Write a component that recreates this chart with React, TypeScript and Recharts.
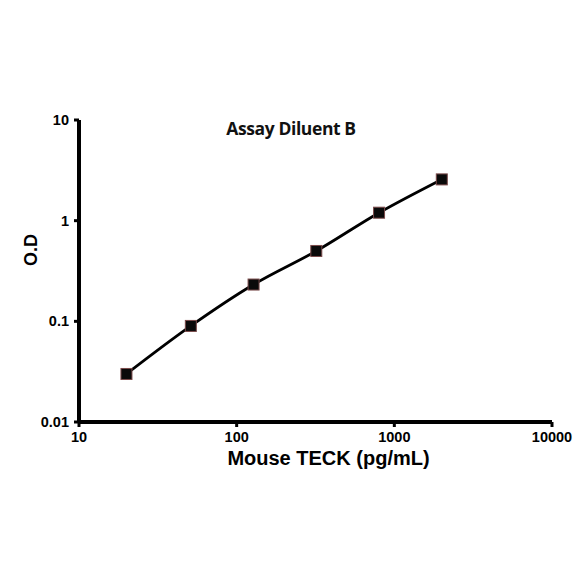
import React from 'react';
import { ComposedChart, Line, XAxis, YAxis, Label } from 'recharts';

// Standard curve: Mouse TECK concentration vs optical density
const concentrations = [20, 51.2, 128, 320, 800, 2000];
const odValues = [0.03, 0.09, 0.232, 0.5, 1.2, 2.57];
const xTicks = [10, 100, 1000, 10000];
const yTicks = [0.01, 0.1, 1, 10];

const data = concentrations.map((c, i) => ({ conc: c, od: odValues[i] }));

const font = 'Arial, "Liberation Sans", sans-serif';

const SquareDot = (props: any) => {
  const { cx, cy } = props;
  if (cx == null || cy == null) return null;
  return (
    <rect
      x={cx - 5.5}
      y={cy - 5.5}
      width={11}
      height={11}
      fill="#0a0a0a"
      stroke="#7a4a4a"
      strokeWidth={1}
    />
  );
};

const XTick = (props: any) => {
  const { x, y, payload } = props;
  return (
    <text x={x} y={y + 13} textAnchor="middle" fontSize={14.5} fontWeight={700} fontFamily={font} fill="#000">
      {String(payload.value)}
    </text>
  );
};

const YTick = (props: any) => {
  const { x, y, payload } = props;
  return (
    <text x={x - 3} y={y + 5} textAnchor="end" fontSize={14.5} fontWeight={700} fontFamily={font} fill="#000">
      {String(payload.value)}
    </text>
  );
};

export default function App() {
  return (
    <div style={{ position: 'absolute', left: 0, top: 0, width: 584, height: 584, background: '#fff' }}>
      <ComposedChart
        width={584}
        height={584}
        data={data}
        margin={{ top: 120, right: 32, bottom: 122, left: 19 }}
      >
        <XAxis
          dataKey="conc"
          type="number"
          scale="log"
          domain={[10, 10000]}
          ticks={xTicks}
          allowDataOverflow
          height={40}
          axisLine={{ stroke: '#000', strokeWidth: 4 }}
          tickLine={{ stroke: '#000', strokeWidth: 3 }}
          tickSize={5}
          tick={<XTick />}
        >
          <Label
            value="Mouse TECK (pg/mL)"
            position="insideBottom"
            offset={-3}
            dx={13}
            style={{ fill: '#000', fontSize: 20, fontWeight: 700, fontFamily: font }}
          />
        </XAxis>
        <YAxis
          type="number"
          scale="log"
          domain={[0.01, 10]}
          ticks={yTicks}
          allowDataOverflow
          width={60}
          axisLine={{ stroke: '#000', strokeWidth: 4 }}
          tickLine={{ stroke: '#000', strokeWidth: 3 }}
          tickSize={5}
          tick={<YTick />}
        >
          <Label
            value="O.D"
            angle={-90}
            position="insideLeft"
            offset={0}
            dx={12}
            dy={-21}
            style={{ fill: '#000', fontSize: 18, fontWeight: 700, fontFamily: font, textAnchor: 'middle' }}
          />
        </YAxis>
        <Line
          dataKey="od"
          type="monotone"
          stroke="#000"
          strokeWidth={2.8}
          dot={<SquareDot />}
          isAnimationActive={false}
        />
        <text
          x={291}
          y={135}
          textAnchor="middle"
          fontWeight={700}
          fontSize={17.5}
          fontFamily='"Open Sans", Lato, sans-serif'
          fill="#111"
          letterSpacing={-0.4}
        >
          Assay Diluent B
        </text>
      </ComposedChart>
    </div>
  );
}
